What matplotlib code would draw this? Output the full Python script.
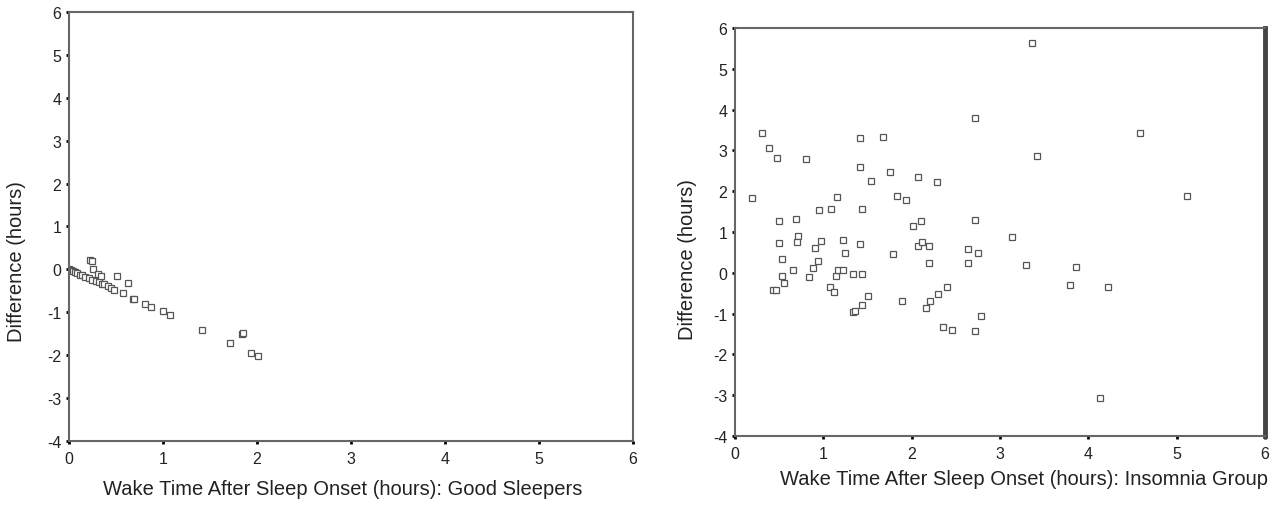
import matplotlib.pyplot as plt

plt.rcParams['font.family'] = ['Liberation Sans', 'DejaVu Sans']
plt.rcParams['axes.unicode_minus'] = False

# Good sleepers: wake time after sleep onset (h) vs difference (h)
good_x = [0.0, 0.018, 0.043, 0.064, 0.089, 0.114, 0.142, 0.17, 0.21, 0.25, 0.285,
          0.32, 0.35, 0.37, 0.41, 0.445, 0.48,
          0.22, 0.24, 0.26, 0.31, 0.34, 0.51, 0.63,
          0.57, 0.68, 0.69, 0.81, 0.87, 1.0, 1.07, 1.42, 1.71, 1.84, 1.85, 1.94, 2.01]
good_y = [0.0, -0.016, -0.04, -0.06, -0.09, -0.12, -0.14, -0.17, -0.21, -0.24, -0.27,
          -0.30, -0.33, -0.35, -0.39, -0.43, -0.47,
          0.22, 0.20, 0.02, -0.10, -0.16, -0.16, -0.31,
          -0.56, -0.68, -0.70, -0.80, -0.875, -0.98, -1.07, -1.41, -1.71, -1.50, -1.49, -1.95, -2.03]

# Insomnia group
ins_x = [0.19, 0.31, 0.385, 0.48, 0.80, 0.495, 0.495, 0.53, 0.53, 0.55, 0.435, 0.46,
         0.66, 0.69, 0.71, 0.70, 0.84, 0.885, 0.90, 0.94, 0.945, 0.97, 1.09, 1.15,
         1.08, 1.12, 1.14, 1.17, 1.22, 1.22, 1.25, 1.33, 1.36, 1.34, 1.41, 1.41, 1.41,
         1.44, 1.44, 1.44, 1.51, 1.54, 1.68, 1.75, 1.79, 1.83, 1.89, 1.94, 2.01, 2.07,
         2.07, 2.11, 2.12, 2.16, 2.20, 2.20, 2.21, 2.29, 2.30, 2.36, 2.40, 2.46, 2.64,
         2.64, 2.72, 2.72, 2.72, 2.75, 2.79, 3.14, 3.29, 3.36, 3.42, 3.79, 3.86, 4.13,
         4.22, 4.58, 5.12]
ins_y = [1.83, 3.43, 3.06, 2.81, 2.79, 1.28, 0.72, 0.34, -0.08, -0.25, -0.43, -0.43,
         0.07, 1.33, 0.89, 0.75, -0.11, 0.12, 0.61, 0.29, 1.54, 0.78, 1.57, 1.86,
         -0.34, -0.47, -0.07, 0.07, 0.07, 0.80, 0.48, -0.97, -0.94, -0.04, 3.30, 2.60, 0.70,
         1.57, -0.02, -0.79, -0.57, 2.26, 3.34, 2.48, 0.45, 1.89, -0.68, 1.78, 1.14, 2.36,
         0.66, 1.28, 0.75, -0.87, 0.66, 0.23, -0.68, 2.23, -0.52, -1.32, -0.34, -1.40, 0.58,
         0.23, 1.30, -1.42, 3.80, 0.48, -1.07, 0.88, 0.20, 5.63, 2.87, -0.31, 0.15, -3.07,
         -0.34, 3.43, 1.89]

xticks = [0, 1, 2, 3, 4, 5, 6]
yticks = [-4, -3, -2, -1, 0, 1, 2, 3, 4, 5, 6]

fig = plt.figure(figsize=(12.77, 5.06), dpi=100)
ax1 = fig.add_axes([0.054, 0.1265, 0.4417, 0.8478])
ax2 = fig.add_axes([0.5756, 0.1364, 0.415, 0.8063])

panels = [(ax1, good_x, good_y, 'Wake Time After Sleep Onset (hours): Good Sleepers'),
          (ax2, ins_x, ins_y, 'Wake Time After Sleep Onset (hours): Insomnia Group')]

for ax, xs, ys, xlabel in panels:
    ax.plot(xs, ys, linestyle='none', marker='s', markersize=4.5,
            markerfacecolor='white', markeredgecolor='#555555', markeredgewidth=0.9)
    ax.set_xlim(0, 6)
    ax.set_ylim(-4, 6)
    ax.set_xticks(xticks)
    ax.set_yticks(yticks)
    for sp in ax.spines.values():
        sp.set_color('#666666')
        sp.set_linewidth(1.5)
    ax.tick_params(direction='out', length=2.5, width=2, color='black',
                   labelsize=11.5, labelcolor='#222222', pad=3)
    ax.tick_params(axis='x', pad=5)
    ax.set_ylabel('Difference (hours)', fontsize=14.5, color='#222222')
    ax.set_xlabel(xlabel, fontsize=14.5, color='#222222')

ax1.xaxis.set_label_coords(0.486, -0.088)
ax1.yaxis.set_label_coords(-0.076, 0.42)

ax2.spines['right'].set_linewidth(3.5)
ax2.spines['right'].set_color('#444444')
ax2.xaxis.set_label_coords(0.545, -0.081)
ax2.yaxis.set_label_coords(-0.072, 0.436)

fig.savefig('out.png', dpi=100)
